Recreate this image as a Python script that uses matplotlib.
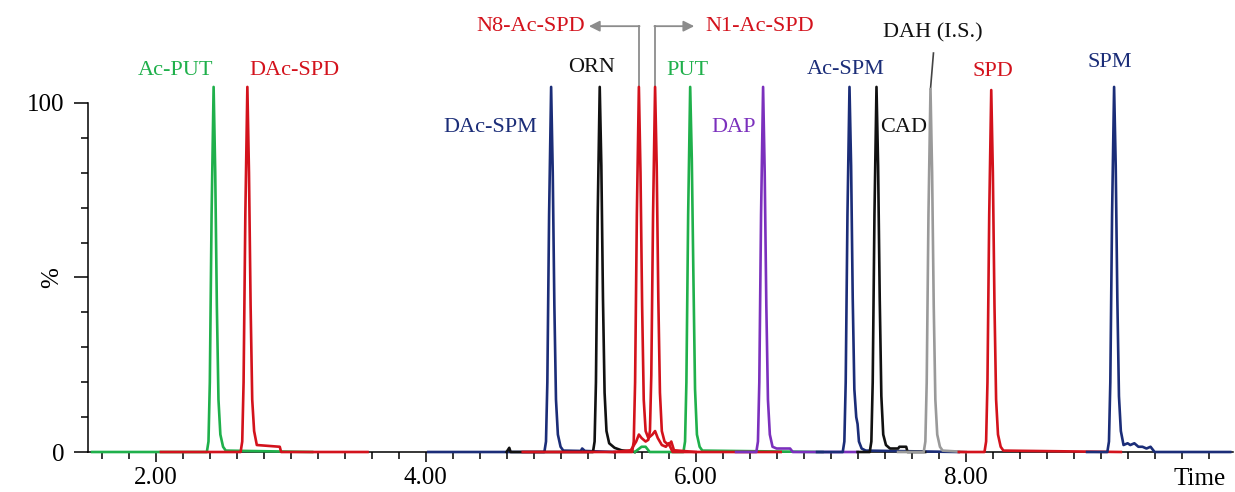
import matplotlib
matplotlib.use("Agg")
import matplotlib.pyplot as plt

plt.rcParams['font.family'] = ['Liberation Serif', 'DejaVu Serif']

# colours used in the chromatogram
GREEN = '#1fb04b'
RED = '#d3121c'
NAVY = '#1b2d78'
BLACK = '#111111'
PURPLE = '#7b30bd'
GREY = '#9a9a9a'

# traces: retention time (min) and relative intensity (%)
acput_t = [1.53, 2.38, 2.392, 2.402, 2.415, 2.43, 2.442, 2.454, 2.466, 2.48, 2.50, 2.52, 3.16]
acput_y = [0.0, 0.0, 3, 20, 68, 104.6, 80, 42, 15, 5, 1.5, 0.4, 0.0]

dacspd_t = [2.04, 2.63, 2.642, 2.652, 2.665, 2.68, 2.692, 2.704, 2.716, 2.73, 2.75, 2.92, 2.93, 3.57]
dacspd_y = [0.0, 0.0, 3, 20, 68, 104.6, 80, 42, 15, 6, 2, 1.5, 0.0, 0.0]

dacspm_t = [4.02, 4.88, 4.892, 4.902, 4.915, 4.93, 4.942, 4.954, 4.966, 4.98, 5.00, 5.02, 5.15, 5.16, 5.18, 5.40]
dacspm_y = [0.0, 0.0, 3, 20, 68, 104.6, 80, 42, 15, 5, 1.5, 0.4, 0.3, 1.0, 0.3, 0.0]

orn_t = [4.60, 4.62, 4.63, 5.24, 5.252, 5.262, 5.275, 5.29, 5.302, 5.314, 5.326, 5.34, 5.36, 5.40, 5.45, 5.55]
orn_y = [0.0, 1.2, 0.0, 0.0, 3, 20, 68, 104.6, 82, 44, 17, 6, 2.5, 1.2, 0.5, 0.0]

n8_t = [4.72, 5.53, 5.542, 5.552, 5.565, 5.58, 5.592, 5.604, 5.616, 5.63, 5.65, 5.68, 5.70, 5.72,
        5.75, 5.78, 5.80, 5.83, 6.63]
n8_y = [0.0, 0.0, 3, 20, 68, 104.6, 80, 42, 15, 6, 4, 5, 6, 4, 2, 1.5, 2.5, 0.0, 0.0]

n1_t = [5.40, 5.52, 5.56, 5.58, 5.60, 5.63, 5.65, 5.662, 5.672, 5.685, 5.70, 5.712, 5.724, 5.736,
        5.75, 5.77, 5.80, 5.82, 5.84, 6.00]
n1_y = [0.0, 0.5, 3, 5, 4, 3, 3.5, 6, 22, 68, 104.6, 82, 44, 17, 6, 3, 2, 3, 0.5, 0.0]

put_t = [5.55, 5.60, 5.63, 5.66, 5.91, 5.922, 5.932, 5.945, 5.96, 5.972, 5.984, 5.996, 6.01, 6.03, 6.05, 6.94]
put_y = [0.0, 1.5, 1.5, 0.0, 0.0, 3, 20, 68, 104.6, 84, 50, 18, 5, 1.5, 0.4, 0.0]

dap_t = [6.30, 6.45, 6.462, 6.472, 6.485, 6.50, 6.512, 6.524, 6.536, 6.55, 6.57, 6.60, 6.70, 6.72, 7.20]
dap_y = [0.0, 0.0, 3, 20, 68, 104.6, 80, 42, 15, 5, 1.5, 1, 1, 0.0, 0.0]

acspm_t = [6.90, 7.09, 7.102, 7.112, 7.125, 7.14, 7.152, 7.164, 7.176, 7.19, 7.20, 7.21, 7.23, 7.26, 7.95]
acspm_y = [0.0, 0.0, 3, 20, 68, 104.6, 82, 44, 18, 10, 8, 3, 1, 0.4, 0.0]

cad_t = [7.20, 7.29, 7.302, 7.312, 7.325, 7.34, 7.352, 7.364, 7.376, 7.39, 7.41, 7.44, 7.50, 7.51,
         7.56, 7.57, 7.70]
cad_y = [0.0, 0.0, 3, 20, 68, 104.6, 82, 44, 16, 5, 2, 1, 1, 1.5, 1.5, 0.0, 0.0]

dah_t = [7.50, 7.69, 7.702, 7.712, 7.725, 7.74, 7.752, 7.764, 7.776, 7.79, 7.81, 7.83, 8.00]
dah_y = [0.0, 0.0, 3, 20, 68, 104.0, 80, 42, 15, 5, 1.5, 0.4, 0.0]

spd_t = [7.95, 8.14, 8.152, 8.162, 8.175, 8.19, 8.202, 8.214, 8.226, 8.24, 8.26, 8.28, 9.15]
spd_y = [0.0, 0.0, 3, 20, 68, 103.7, 80, 42, 15, 5, 1.5, 0.4, 0.0]

spm_t = [8.90, 9.05, 9.062, 9.072, 9.085, 9.10, 9.112, 9.124, 9.136, 9.15, 9.17, 9.20, 9.22, 9.25,
         9.28, 9.31, 9.34, 9.37, 9.40, 9.96]
spm_y = [0.0, 0.0, 3, 20, 68, 104.6, 82, 44, 16, 6, 2, 2.5, 2, 2.5, 1.5, 1.5, 1, 1.5, 0.0, 0.0]

traces = [
    (acput_t, acput_y, GREEN), (dacspd_t, dacspd_y, RED),
    (dacspm_t, dacspm_y, NAVY), (orn_t, orn_y, BLACK),
    (put_t, put_y, GREEN), (n8_t, n8_y, RED), (n1_t, n1_y, RED),
    (dap_t, dap_y, PURPLE), (acspm_t, acspm_y, NAVY), (cad_t, cad_y, BLACK),
    (dah_t, dah_y, GREY), (spd_t, spd_y, RED), (spm_t, spm_y, NAVY),
]

# peak labels: text, x, y, colour, horizontal alignment
labels = [
    ('Ac-PUT', 2.15, 109.2, GREEN, 'center'),
    ('DAc-SPD', 3.03, 109.2, RED, 'center'),
    ('DAc-SPM', 4.48, 93.1, NAVY, 'center'),
    ('ORN', 5.23, 110.3, BLACK, 'center'),
    ('N8-Ac-SPD', 5.18, 122.0, RED, 'right'),
    ('N1-Ac-SPD', 6.07, 122.0, RED, 'left'),
    ('PUT', 5.94, 109.2, GREEN, 'center'),
    ('DAP', 6.28, 93.1, PURPLE, 'center'),
    ('Ac-SPM', 7.11, 109.7, NAVY, 'center'),
    ('CAD', 7.54, 93.1, BLACK, 'center'),
    ('DAH (I.S.)', 7.76, 120.0, BLACK, 'center'),
    ('SPD', 8.20, 108.9, RED, 'center'),
    ('SPM', 9.07, 111.5, NAVY, 'center'),
]

fig = plt.figure(figsize=(12.35, 4.92), dpi=100)
ax = fig.add_axes([0.0713, 0.0813, 0.927, 0.9187])

for t, y, c in traces:
    ax.plot(t, y, color=c, lw=1.9, zorder=3, clip_on=False, solid_joinstyle='round')

for txt, x, y, c, ha in labels:
    ax.text(x, y, txt, color=c, fontsize=16, ha=ha, va='center')

# leader lines and arrows for the two acetyl-spermidines
ax.plot([5.58, 5.58], [104.6, 122.0], color='#8c8c8c', lw=1.3)
ax.annotate('', xy=(5.21, 122.0), xytext=(5.585, 122.0),
            arrowprops=dict(arrowstyle='-|>', color='#8c8c8c', lw=1.3, mutation_scale=16,
                            shrinkA=0, shrinkB=0))
ax.plot([5.70, 5.70], [104.6, 122.0], color='#8c8c8c', lw=1.3)
ax.annotate('', xy=(5.99, 122.0), xytext=(5.695, 122.0),
            arrowprops=dict(arrowstyle='-|>', color='#8c8c8c', lw=1.3, mutation_scale=16,
                            shrinkA=0, shrinkB=0))
# leader for the internal standard
ax.plot([7.74, 7.762], [104.0, 114.3], color='#444444', lw=1.2)

ax.set_xlim(1.5, 9.98)
ax.set_ylim(0, 129.5)

for s in ['top', 'right']:
    ax.spines[s].set_visible(False)
ax.spines['left'].set_bounds(0, 100)
ax.spines['left'].set_linewidth(1.1)
ax.spines['bottom'].set_linewidth(1.1)

ax.set_xticks([2, 4, 6, 8])
ax.set_xticklabels(['2.00', '4.00', '6.00', '8.00'])
ax.set_xticks([1.6 + 0.2 * i for i in range(42)], minor=True)
ax.set_yticks([0, 50, 100])
ax.set_yticklabels(['0', '', '100'])
ax.set_yticks([10, 20, 30, 40, 60, 70, 80, 90], minor=True)

ax.tick_params(axis='x', which='major', length=7.5, width=1.1, pad=3, labelsize=18)
ax.tick_params(axis='x', which='minor', length=5, width=1.1)
ax.tick_params(axis='y', which='major', length=10, width=1.1, pad=7, labelsize=18)
ax.tick_params(axis='y', which='minor', length=4.7, width=1.1)

ax.set_ylabel('%', fontsize=18)
ax.yaxis.set_label_coords(-0.022, 50 / 129.5)

ax.text(9.73, -7.6, 'Time', fontsize=18, ha='center', va='center', clip_on=False)

fig.savefig('out.png', dpi=100)
